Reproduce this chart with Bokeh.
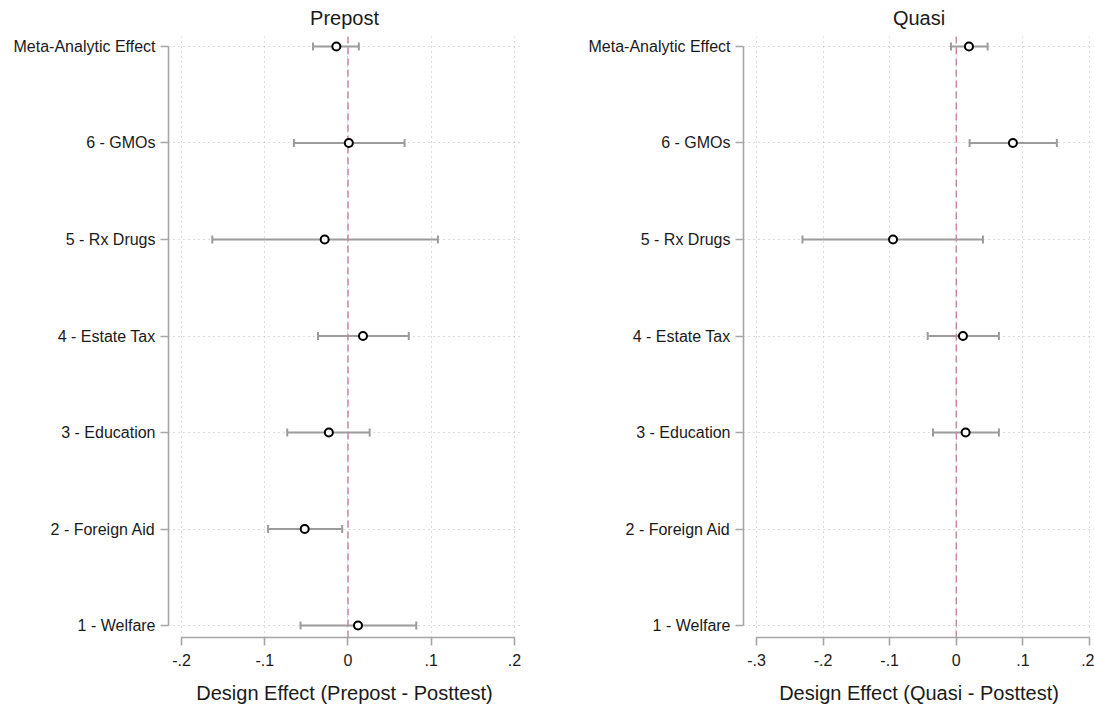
from bokeh.plotting import figure
from bokeh.models import Range1d, FixedTicker, Whisker, TeeHead, Span, ColumnDataSource
from bokeh.layouts import row
from bokeh.embed import file_html
from bokeh.resources import INLINE

# ---- data ----
categories = ["1 - Welfare", "2 - Foreign Aid", "3 - Education", "4 - Estate Tax",
              "5 - Rx Drugs", "6 - GMOs", "Meta-Analytic Effect"]

prepost_est = [0.012, -0.052, -0.023, 0.018, -0.028, 0.001, -0.014]
prepost_lo = [-0.057, -0.096, -0.073, -0.036, -0.163, -0.065, -0.042]
prepost_hi = [0.082, -0.007, 0.026, 0.073, 0.108, 0.068, 0.013]

quasi_est = [None, None, 0.014, 0.010, -0.095, 0.085, 0.019]
quasi_lo = [None, None, -0.035, -0.043, -0.231, 0.020, -0.008]
quasi_hi = [None, None, 0.064, 0.064, 0.040, 0.151, 0.047]

prepost_xticks = [-0.2, -0.1, 0.0, 0.1, 0.2]
prepost_xlabels = ["-.2", "-.1", "0", ".1", ".2"]
quasi_xticks = [-0.3, -0.2, -0.1, 0.0, 0.1, 0.2]
quasi_xlabels = ["-.3", "-.2", "-.1", "0", ".1", ".2"]

FONT = "Liberation Sans"
AXIS_GRAY = "#a6a6a6"
TEXT = "#1a1a1a"


def make_panel(title, est, lo, hi, xr, xticks, xlabels, xlab, width, min_left, min_right):
    ypos = [i + 1 for i in range(len(categories))]
    keep = [i for i, v in enumerate(est) if v is not None]
    src = ColumnDataSource(dict(
        y=[ypos[i] for i in keep],
        est=[est[i] for i in keep],
        lo=[lo[i] for i in keep],
        hi=[hi[i] for i in keep],
    ))
    p = figure(width=width, height=708, x_range=Range1d(*xr), y_range=Range1d(0.876, 7.1035),
               output_backend="svg", toolbar_location=None,
               min_border_left=min_left, min_border_right=min_right,
               min_border_top=35, min_border_bottom=71, title=title)
    p.outline_line_color = None
    p.title.text_font = FONT
    p.title.text_font_size = "20px"
    p.title.text_font_style = "normal"
    p.title.text_color = TEXT
    p.title.align = "center"
    p.title.vertical_align = "top"
    p.title.standoff = 12

    for ax in (p.xaxis[0], p.yaxis[0]):
        ax.axis_line_color = AXIS_GRAY
        ax.axis_line_width = 1.6
        ax.major_tick_line_color = AXIS_GRAY
        ax.major_tick_line_width = 1.6
        ax.major_tick_out = 8
        ax.major_tick_in = 0
        ax.minor_tick_line_color = None
        ax.major_label_text_font = FONT
        ax.major_label_text_font_size = "16px"
        ax.major_label_text_color = TEXT

    xa = p.xaxis[0]
    xa.ticker = FixedTicker(ticks=xticks)
    xa.major_label_overrides = {t: s for t, s in zip(xticks, xlabels)}
    xa.bounds = (xticks[0], xticks[-1])
    xa.major_label_standoff = 8
    xa.axis_label = xlab
    xa.axis_label_text_font = FONT
    xa.axis_label_text_font_size = "20px"
    xa.axis_label_text_font_style = "normal"
    xa.axis_label_text_color = TEXT
    xa.axis_label_standoff = 13

    ya = p.yaxis[0]
    ya.ticker = FixedTicker(ticks=ypos)
    ya.major_label_overrides = {y: c for y, c in zip(ypos, categories)}
    ya.bounds = (ypos[0], ypos[-1])
    ya.major_label_standoff = 5

    for g in (p.xgrid[0], p.ygrid[0]):
        g.grid_line_color = "#b8b8b8"
        g.grid_line_dash = "1 4"
        g.grid_line_width = 1

    wh = Whisker(source=src, base="y", lower="lo", upper="hi", dimension="width",
                 line_color="#9c9c9c", line_width=2, level="underlay",
                 lower_head=TeeHead(size=8, line_color="#9c9c9c", line_width=2),
                 upper_head=TeeHead(size=8, line_color="#9c9c9c", line_width=2))
    p.add_layout(wh)
    p.add_layout(Span(location=0, dimension="height", line_color="#c984a8",
                      line_width=1.5, line_dash="7 4", level="underlay"))
    p.scatter("est", "y", source=src, size=8, marker="circle",
              fill_color="white", line_color="black", line_width=2)
    return p


p1 = make_panel("Prepost", prepost_est, prepost_lo, prepost_hi,
                (-0.2156, 0.2072), prepost_xticks, prepost_xlabels,
                "Design Effect (Prepost - Posttest)", 560, 168, 40)
p2 = make_panel("Quasi", quasi_est, quasi_lo, quasi_hi,
                (-0.3195, 0.2075), quasi_xticks, quasi_xlabels,
                "Design Effect (Quasi - Posttest)", 534, 183, 0)

layout = row(p1, p2)
open("out.html", "w").write(file_html(layout, INLINE))
